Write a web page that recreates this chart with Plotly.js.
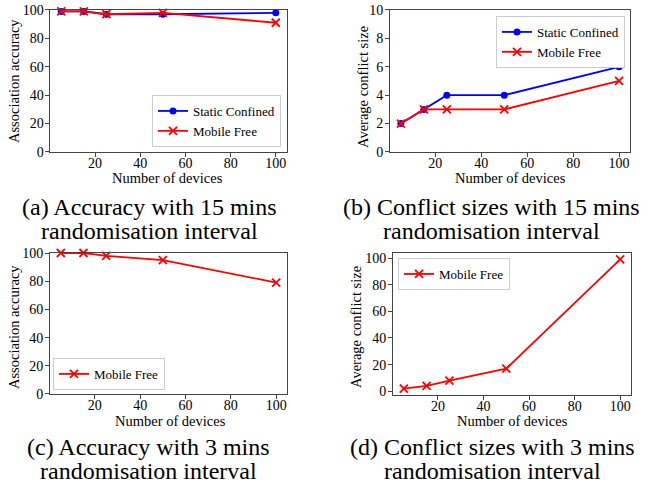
<!DOCTYPE html>
<html><head><meta charset="utf-8">
<script src="https://cdn.plot.ly/plotly-3.0.1.min.js"></script>
<style>html,body{margin:0;padding:0;background:#fff}#chart{width:659px;height:489px}</style>
</head><body><div id="chart"></div>
<script>
// ---- data ----
const devices = [5, 15, 25, 50, 100];
const acc15Static = [99, 99, 97, 97, 98];
const acc15Mobile = [99, 99, 97, 98, 91];
const conf15Static = [2, 3, 4, 4, 6];
const conf15Mobile = [2, 3, 3, 3, 5];
const acc3Mobile = [100, 100, 98, 95, 79];
const conf3Mobile = [2, 4, 8, 17, 99];
const seriesNames = ['Static Confined', 'Mobile Free'];
const xTicks = [20, 40, 60, 80, 100];
const accTicks = [0, 20, 40, 60, 80, 100];
const conf15Ticks = [0, 2, 4, 6, 8, 10];
const conf3Ticks = [0, 20, 40, 60, 80, 100];
const xTitle = 'Number of devices';
const yTitles = ['Association accuracy', 'Average conflict size', 'Association accuracy', 'Average conflict size'];
const captionLine1 = ['(a) Accuracy with 15 mins', '(b) Conflict sizes with 15 mins', '(c) Accuracy with 3 mins', '(d) Conflict sizes with 3 mins'];
const captionLine2 = ['randomisation interval', 'randomisation interval', 'randomisation interval', 'randomisation interval'];

// ---- styles ----
const FONT = '"Liberation Serif"';
const BLUE = '#0000ff', RED = '#ff0000';
const W = 659, H = 489;
function staticTrace(y, xa, ya, lg) {
  return {x: devices, y: y, xaxis: xa, yaxis: ya, legend: lg, name: seriesNames[0], mode: 'lines+markers',
    cliponaxis: false,
    line: {color: BLUE, width: 1.8}, marker: {symbol: 'circle', size: 7, color: BLUE}};
}
function mobileTrace(y, xa, ya, lg) {
  return {x: devices, y: y, xaxis: xa, yaxis: ya, legend: lg, name: seriesNames[1], mode: 'lines+markers',
    cliponaxis: false,
    line: {color: RED, width: 1.8}, marker: {symbol: 'x-thin-open', size: 8, color: RED, line: {color: RED, width: 1.8}}};
}
const traces = [
  staticTrace(acc15Static, 'x', 'y', 'legend'),
  mobileTrace(acc15Mobile, 'x', 'y', 'legend'),
  staticTrace(conf15Static, 'x2', 'y2', 'legend2'),
  mobileTrace(conf15Mobile, 'x2', 'y2', 'legend2'),
  mobileTrace(acc3Mobile, 'x3', 'y3', 'legend3'),
  mobileTrace(conf3Mobile, 'x4', 'y4', 'legend4')
];

const base = {showline: true, mirror: true, linecolor: '#444', linewidth: 1, ticks: 'outside', ticklen: 4,
  tickcolor: '#444', showgrid: false, zeroline: false, fixedrange: true,
  tickfont: {family: FONT, size: 14, color: '#000'}};
function xAxis(domain, anchor) {
  return Object.assign({}, base, {domain: domain, anchor: anchor, range: [0.25, 104.75], tickvals: xTicks,
    ticklabelstandoff: -6});
}
function yAxis(domain, anchor, range, ticks) {
  return Object.assign({}, base, {domain: domain, anchor: anchor, range: range, tickvals: ticks,
    ticklabelstandoff: -1});
}
const legendBase = {bgcolor: '#fff', bordercolor: '#ccc', borderwidth: 1, font: {family: FONT, size: 13, color: '#000'},
  itemwidth: 30, tracegroupgap: 0};

const annotations = [];
const capX = [149, 492, 148, 493];
const capY1 = [207, 207, 447, 447], capY2 = [231, 231, 471, 471];
const xTitlePos = [[167, 178], [510, 178], [170, 421], [512, 421]];
const yTitlePos = [[14, 81], [363, 87], [14, 327], [356, 327]];
for (let i = 0; i < 4; i++) {
  annotations.push({text: captionLine1[i], x: capX[i] / W, y: 1 - capY1[i] / H, xref: 'paper', yref: 'paper',
    xanchor: 'center', yanchor: 'middle', showarrow: false, font: {family: FONT, size: 24, color: '#000'}});
  annotations.push({text: captionLine2[i], x: capX[i] / W, y: 1 - capY2[i] / H, xref: 'paper', yref: 'paper',
    xanchor: 'center', yanchor: 'middle', showarrow: false, font: {family: FONT, size: 24, color: '#000'}});
  annotations.push({text: xTitle, x: xTitlePos[i][0] / W, y: 1 - xTitlePos[i][1] / H, xref: 'paper', yref: 'paper',
    xanchor: 'center', yanchor: 'middle', showarrow: false, font: {family: FONT, size: 14.5, color: '#000'}});
  annotations.push({text: yTitles[i], x: yTitlePos[i][0] / W, y: 1 - yTitlePos[i][1] / H, xref: 'paper', yref: 'paper',
    xanchor: 'center', yanchor: 'middle', textangle: -90, showarrow: false, font: {family: FONT, size: 14.5, color: '#000'}});
}

const layout = {
  width: W, height: H, margin: {l: 0, r: 0, t: 0, b: 0}, paper_bgcolor: '#fff', plot_bgcolor: '#fff',
  font: {family: FONT, color: '#000'},
  xaxis: xAxis([0.0766, 0.4348], 'y'),
  yaxis: yAxis([0.6892, 0.9796], 'x', [0, 100], accTicks),
  xaxis2: xAxis([0.5918, 0.956], 'y2'),
  yaxis2: yAxis([0.6892, 0.9796], 'x2', [0, 10], conf15Ticks),
  xaxis3: xAxis([0.0759, 0.4355], 'y3'),
  yaxis3: yAxis([0.1943, 0.4826], 'x3', [0, 100], accTicks),
  xaxis4: xAxis([0.5964, 0.9575], 'y4'),
  yaxis4: yAxis([0.1922, 0.4826], 'x4', [-2.85, 103.85], conf3Ticks),
  legend: Object.assign({}, legendBase, {x: 0.4264, y: 0.6994, xanchor: 'right', yanchor: 'bottom'}),
  legend2: Object.assign({}, legendBase, {x: 0.9484, y: 0.9673, xanchor: 'right', yanchor: 'top'}),
  legend3: Object.assign({}, legendBase, {x: 0.0804, y: 0.2025, xanchor: 'left', yanchor: 'bottom'}),
  legend4: Object.assign({}, legendBase, {x: 0.604, y: 0.4724, xanchor: 'left', yanchor: 'top'}),
  annotations: annotations,
  showlegend: true
};
Plotly.newPlot('chart', traces, layout, {staticPlot: true, displayModeBar: false});
</script>
</body></html>
